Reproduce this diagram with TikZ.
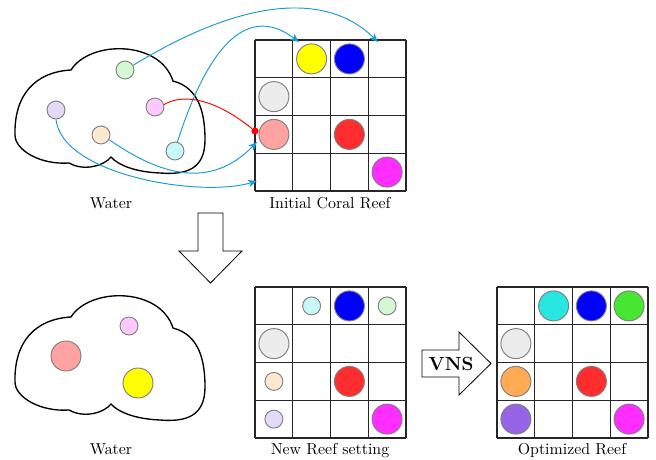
\documentclass[tikz,border=0pt]{standalone}
\usetikzlibrary{arrows.meta}
\definecolor{arrowblue}{RGB}{25,155,210}
\definecolor{cYellow}{RGB}{255,255,0}
\definecolor{cBlue}{RGB}{0,0,255}
\definecolor{cGray}{RGB}{236,236,236}
\definecolor{cSalmon}{RGB}{255,162,162}
\definecolor{cRed}{RGB}{255,45,45}
\definecolor{cMagenta}{RGB}{255,45,255}
\definecolor{cLGreen}{RGB}{212,248,212}
\definecolor{cLav}{RGB}{228,218,248}
\definecolor{cLPink}{RGB}{255,200,255}
\definecolor{cPeach}{RGB}{255,232,210}
\definecolor{cLCyan}{RGB}{200,248,248}
\definecolor{cTurq}{RGB}{40,230,225}
\definecolor{cGreen}{RGB}{70,230,50}
\definecolor{cOrange}{RGB}{255,170,85}
\definecolor{cPurple}{RGB}{150,100,230}
\begin{document}
\begin{tikzpicture}[x=0.63pt,y=-0.63pt,
  cloudline/.style={draw=black, line width=0.85pt},
  cellline/.style={draw=black!85, line width=0.8pt},
  big/.style={circle, draw=gray, line width=0.6pt, minimum size=18.9pt, inner sep=0pt},
  small/.style={circle, draw=gray, line width=0.6pt, minimum size=11.3pt, inner sep=0pt},
  link/.style={arrowblue, line width=0.6pt, -{Stealth[length=5.5pt,width=4.5pt,inset=1.5pt]}},
  lbl/.style={anchor=base, inner sep=0pt},
  fatarrow/.style={draw=black, line width=0.5pt, fill=white},
  cloudshape/.pic={
    \draw[cloudline] (71,70) .. controls (90,40) and (160,40) .. (173,81)
      .. controls (200,88) and (205,115) .. (205,140)
      .. controls (205,170) and (185,175) .. (160,173)
      .. controls (135,172) and (118,165) .. (111,157)
      .. controls (105,165) and (85,172) .. (69,163)
      .. controls (40,165) and (15,150) .. (15,135)
      .. controls (14,95) and (35,72) .. (71,70) -- cycle;
  },
  reefgrid/.pic={
    \foreach \i in {0,...,4}{
      \draw[cellline] (\i*37.75,0) -- (\i*37.75,151);
      \draw[cellline] (0,\i*37.75) -- (151,\i*37.75);
    }
  }]
\useasboundingbox (0,0) rectangle (656,460);

% ---------- top row ----------
\pic at (0,0) {cloudshape};
\pic at (255,40) {reefgrid};

\node[big, fill=cYellow]  (ay) at (311.6,58.9) {};
\node[big, fill=cBlue]    (ab) at (349.4,58.9) {};
\node[big, fill=cGray]    (ag) at (273.9,96.6) {};
\node[big, fill=cSalmon]  (as) at (273.9,134.4) {};
\node[big, fill=cRed]     (ar) at (349.4,134.4) {};
\node[big, fill=cMagenta] (am) at (387.1,172.1) {};

\node[small, fill=cLGreen] (g1) at (125,70) {};
\node[small, fill=cLav]    (l1) at (56,110) {};
\node[small, fill=cLPink]  (p1) at (155,107) {};
\node[small, fill=cPeach]  (e1) at (101,135) {};
\node[small, fill=cLCyan]  (c1) at (175,151) {};

\coordinate (t1) at (378,42);
\coordinate (t2) at (299,42);
\coordinate (t3) at (257,142);
\coordinate (t4) at (257,181);
\node[circle, fill=red, inner sep=0pt, minimum size=4.5pt] (rdot) at (255,131) {};

\draw[link] (g1.30) .. controls (240,0) and (325,-10) .. (t1);
\draw[link] (c1.75) .. controls (210,40) and (250,5) .. (t2);
\draw[red, line width=0.6pt] (p1.15) .. controls (180,95) and (210,95) .. (rdot);
\draw[link] (e1.-30) .. controls (160,175) and (210,190) .. (t3);
\draw[link] (l1.south) .. controls (62,175) and (200,198) .. (t4);

\node[lbl] (w1) at (111,208) {Water};
\node[lbl] (r1) at (330,208) {Initial Coral Reef};

% ---------- down arrow ----------
\draw[fatarrow] (198,213) -- (223,213) -- (223,251) -- (242,251) -- (210.5,283)
  -- (179,251) -- (198,251) -- cycle;

% ---------- bottom row ----------
\pic at (0,247) {cloudshape};
\node[small, fill=cLPink] (p2) at (129,326) {};
\node[big, fill=cSalmon]  (s2) at (66,356) {};
\node[big, fill=cYellow]  (y2) at (138,383) {};

\pic at (255,287) {reefgrid};
\node[small, fill=cLCyan]  (c2) at (311.6,305.9) {};
\node[big, fill=cBlue]     (b2) at (349.4,305.9) {};
\node[small, fill=cLGreen] (g2) at (387.1,305.9) {};
\node[big, fill=cGray]     (gr2) at (273.9,343.6) {};
\node[small, fill=cPeach]  (e2) at (273.9,381.4) {};
\node[big, fill=cRed]      (r2) at (349.4,381.4) {};
\node[small, fill=cLav]    (l2) at (273.9,419.1) {};
\node[big, fill=cMagenta]  (m2) at (387.1,419.1) {};

\draw[fatarrow] (422,350) -- (459,350) -- (459,332) -- (491,363.5) -- (459,395)
  -- (459,377) -- (422,377) -- cycle;
\node[font=\large\bfseries] (vns) at (451,363.5) {VNS};

\pic at (497,287) {reefgrid};
\node[big, fill=cTurq]    (t3a) at (553.6,305.9) {};
\node[big, fill=cBlue]    (b3) at (591.4,305.9) {};
\node[big, fill=cGreen]   (g3) at (629.1,305.9) {};
\node[big, fill=cGray]    (gr3) at (515.9,343.6) {};
\node[big, fill=cOrange]  (o3) at (515.9,381.4) {};
\node[big, fill=cRed]     (r3) at (591.4,381.4) {};
\node[big, fill=cPurple]  (u3) at (515.9,419.1) {};
\node[big, fill=cMagenta] (m3) at (629.1,419.1) {};

\node[lbl] (w2) at (111,454) {Water};
\node[lbl] (r2l) at (330,454) {New Reef setting};
\node[lbl] (o3l) at (572,454) {Optimized Reef};
\end{tikzpicture}
\end{document}
